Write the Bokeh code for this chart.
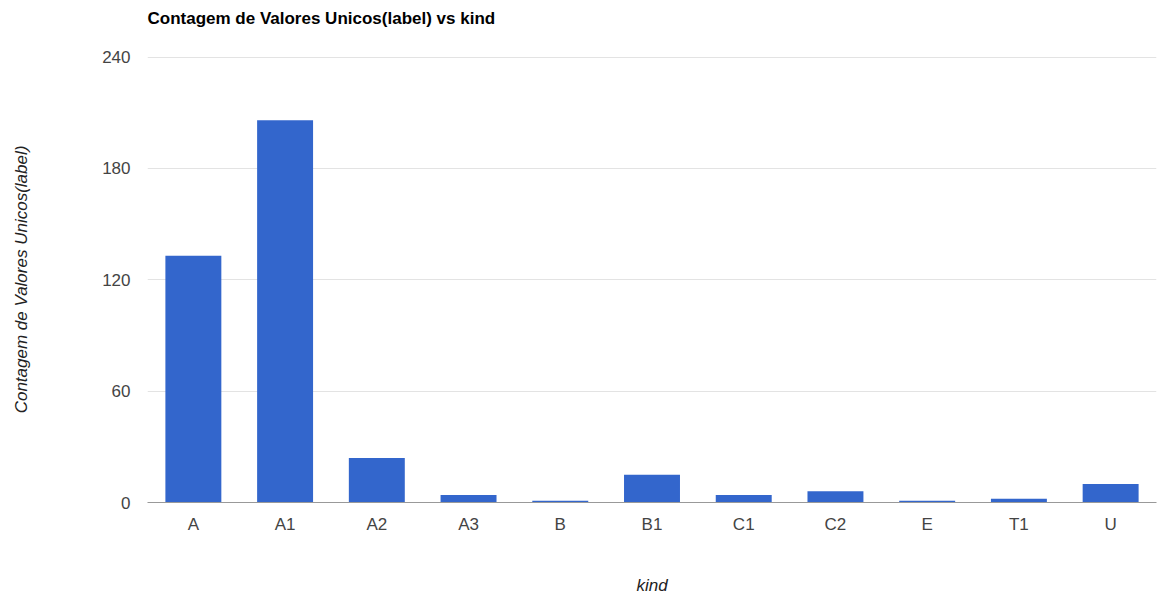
from bokeh.plotting import figure
from bokeh.models import ColumnDataSource, FactorRange, Range1d, FixedTicker, Title
from bokeh.embed import file_html
from bokeh.resources import INLINE

title_text = "Contagem de Valores Unicos(label) vs kind"
categories = ["A", "A1", "A2", "A3", "B", "B1", "C1", "C2", "E", "T1", "U"]
counts = [133, 206, 24, 4, 1, 15, 4, 6, 1, 2, 10]
y_ticks = [0, 60, 120, 180, 240]

src = ColumnDataSource(data=dict(kind=categories, count=counts))

p = figure(
    x_range=FactorRange(*categories, range_padding=0),
    y_range=Range1d(0, 240.3),
    width=1157, height=598,
    output_backend="svg", toolbar_location=None, title_location=None,
    min_border_left=147, min_border_right=1, min_border_top=56, min_border_bottom=96,
)
p.vbar(x="kind", top="count", width=0.61, source=src, color="#3366cc", line_color=None)

p.outline_line_color = None
p.background_fill_color = "white"
p.border_fill_color = "white"

spacer = Title(text=" ", text_font="Liberation Sans", text_font_size="17px", standoff=0)
real_title = Title(text=title_text, text_font="Liberation Sans", text_font_size="17px",
                   text_font_style="bold", text_color="#000000", align="left", offset=0,
                   standoff=12, vertical_align="top")
p.add_layout(spacer, "above")
p.add_layout(real_title, "above")

p.xaxis.axis_label = "kind"
p.yaxis.axis_label = "Contagem de Valores Unicos(label)"
for ax in (p.xaxis, p.yaxis):
    ax.axis_label_text_font = "Liberation Sans"
    ax.axis_label_text_font_size = "17px"
    ax.axis_label_text_font_style = "italic"
    ax.axis_label_text_color = "#222222"
    ax.major_label_text_font = "Liberation Sans"
    ax.major_label_text_font_size = "17px"
    ax.major_label_text_color = "#444444"
    ax.major_tick_line_color = None
    ax.minor_tick_line_color = None
    ax.major_tick_out = 0
    ax.major_tick_in = 0

p.yaxis.ticker = FixedTicker(ticks=y_ticks)
p.yaxis.axis_line_color = None
p.yaxis.major_label_standoff = 17
p.yaxis.axis_label_standoff = 68

p.xaxis.axis_line_color = "#999999"
p.xaxis.major_label_standoff = 12
p.xaxis.axis_label_standoff = 39

p.xgrid.grid_line_color = None
p.ygrid.grid_line_color = "#e3e3e3"
p.ygrid.ticker = FixedTicker(ticks=y_ticks)

open("out.html", "w").write(file_html(p, INLINE))
